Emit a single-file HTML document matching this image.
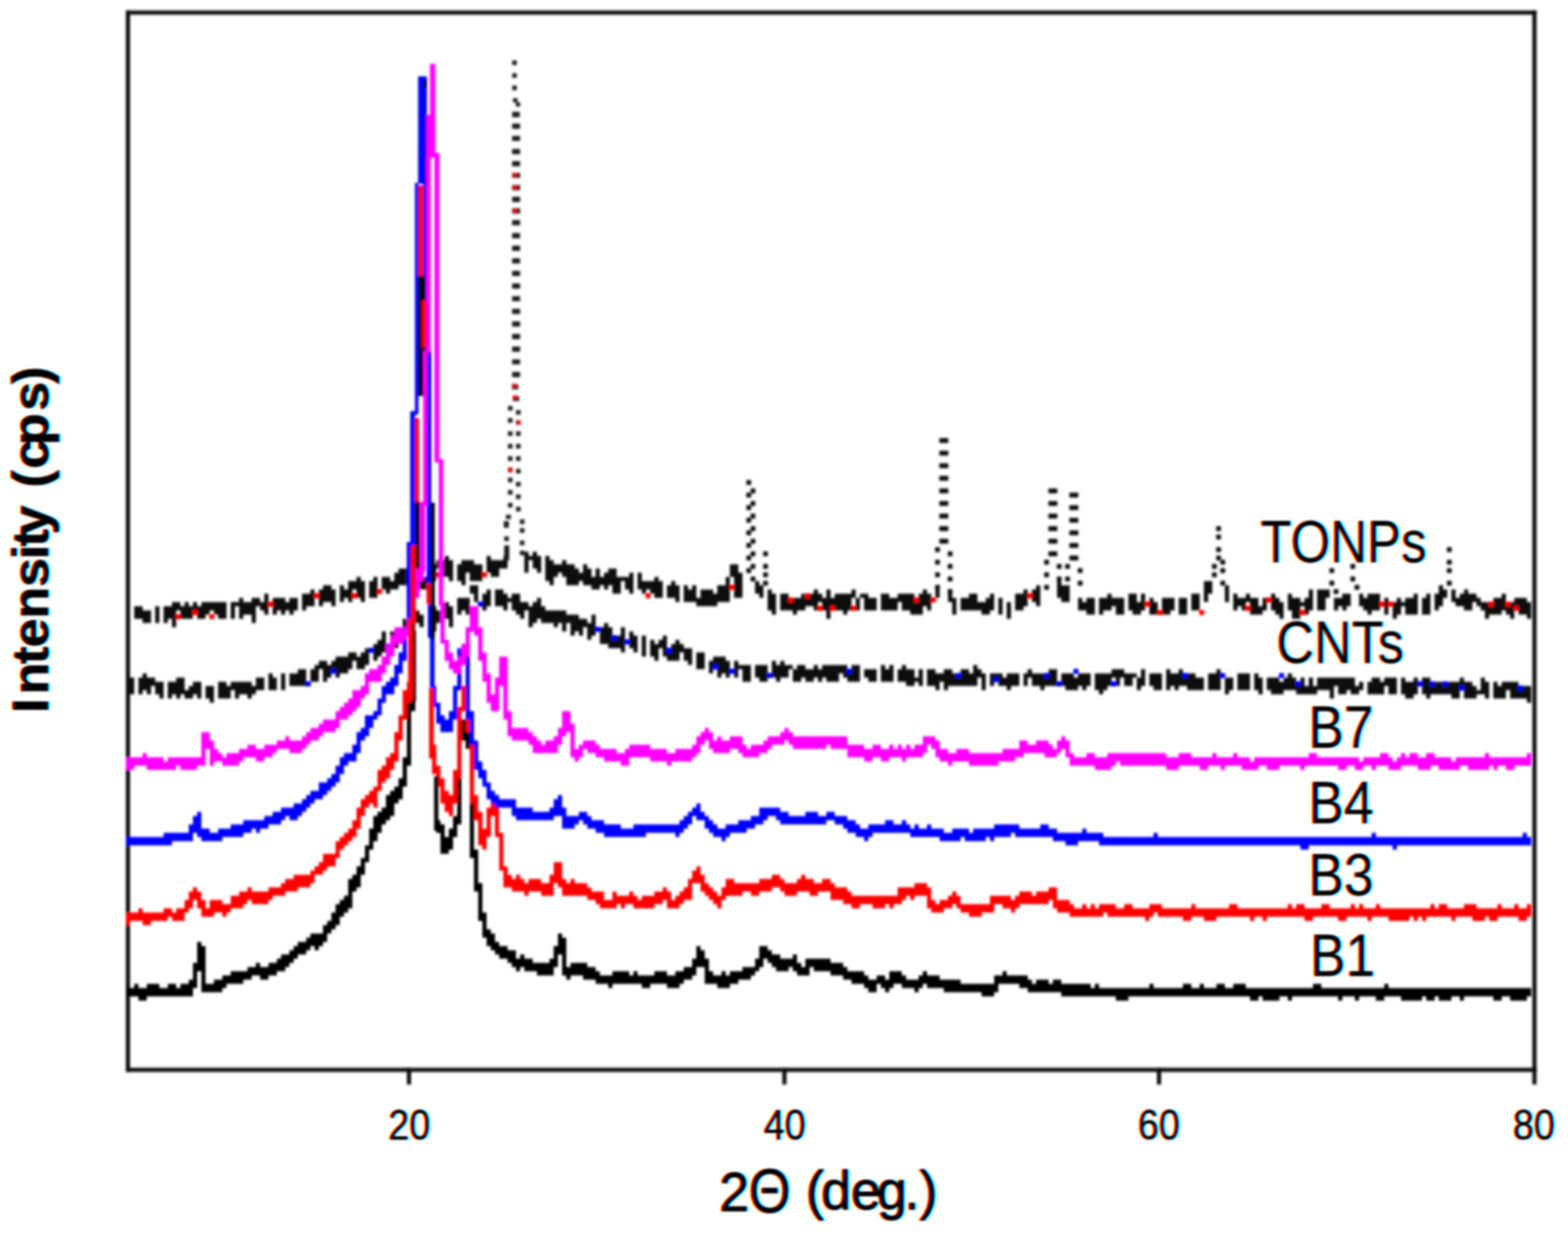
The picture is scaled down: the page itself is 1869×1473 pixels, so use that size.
<!DOCTYPE html>
<html lang="en"><head><meta charset="utf-8"><title>XRD patterns</title>
<style>
html,body{margin:0;padding:0;background:#fff;}
body{width:1869px;height:1473px;overflow:hidden;}
svg{display:block;}
</style></head><body>
<svg width="1869" height="1473" viewBox="0 0 1869 1473">
<defs><filter id="soft" x="0" y="0" width="1869" height="1473" filterUnits="userSpaceOnUse"><feGaussianBlur stdDeviation="1.6"/></filter><filter id="softt" x="0" y="0" width="1869" height="1473" filterUnits="userSpaceOnUse" color-interpolation-filters="sRGB"><feGaussianBlur in="SourceGraphic" stdDeviation="1.0" result="b"/><feOffset in="b" dx="1.5" result="o1"/><feOffset in="b" dx="-1.5" result="o2"/><feColorMatrix in="o1" type="matrix" values="0 0 0 -1 1  0 0 0 0 0  0 0 0 0 0  0 0 0 0 1" result="r"/><feColorMatrix in="b" type="matrix" values="0 0 0 0 0  0 0 0 -1 1  0 0 0 0 0  0 0 0 0 1" result="g"/><feColorMatrix in="o2" type="matrix" values="0 0 0 0 0  0 0 0 0 0  0 0 0 -1 1  0 0 0 0 1" result="bl"/><feComposite in="r" in2="g" operator="arithmetic" k2="1" k3="1" result="rg"/><feComposite in="rg" in2="bl" operator="arithmetic" k2="1" k3="1"/></filter></defs>
<rect width="1869" height="1473" fill="#fff"/>
<g font-family="Liberation Sans, sans-serif" filter="url(#softt)">
<text stroke="#111" stroke-width="0.4" stroke-linejoin="round" x="1502" y="670" font-size="70" font-weight="normal" fill="#111" textLength="198" lengthAdjust="spacingAndGlyphs">TONPs</text>
<text stroke="#111" stroke-width="0.4" stroke-linejoin="round" x="1521" y="790" font-size="70" font-weight="normal" fill="#111" textLength="152" lengthAdjust="spacingAndGlyphs">CNTs</text>
<text stroke="#111" stroke-width="0.4" stroke-linejoin="round" x="1559" y="891" font-size="70" font-weight="normal" fill="#111" textLength="78" lengthAdjust="spacingAndGlyphs">B7</text>
<text stroke="#111" stroke-width="0.4" stroke-linejoin="round" x="1559" y="981" font-size="70" font-weight="normal" fill="#111" textLength="78" lengthAdjust="spacingAndGlyphs">B4</text>
<text stroke="#111" stroke-width="0.4" stroke-linejoin="round" x="1559" y="1067" font-size="70" font-weight="normal" fill="#111" textLength="78" lengthAdjust="spacingAndGlyphs">B3</text>
<text stroke="#111" stroke-width="0.4" stroke-linejoin="round" x="1561" y="1162.5" font-size="70" font-weight="normal" fill="#111" textLength="78" lengthAdjust="spacingAndGlyphs">B1</text>
<text stroke="#111" stroke-width="0.7" stroke-linejoin="round" x="462.5" y="1358" font-size="50" font-weight="normal" fill="#111" textLength="50" lengthAdjust="spacingAndGlyphs">20</text>
<text stroke="#111" stroke-width="0.7" stroke-linejoin="round" x="910" y="1358" font-size="50" font-weight="normal" fill="#111" textLength="50" lengthAdjust="spacingAndGlyphs">40</text>
<text stroke="#111" stroke-width="0.7" stroke-linejoin="round" x="1356" y="1358" font-size="50" font-weight="normal" fill="#111" textLength="50" lengthAdjust="spacingAndGlyphs">60</text>
<text stroke="#111" stroke-width="0.7" stroke-linejoin="round" x="1803" y="1358" font-size="50" font-weight="normal" fill="#111" textLength="50" lengthAdjust="spacingAndGlyphs">80</text>
<text y="1443" font-size="64" fill="#111" stroke="#111" stroke-width="1.4" stroke-linejoin="round"><tspan x="857.0">2</tspan><tspan x="891.9" dy="1.5" font-size="75" stroke-width="1.0" textLength="50.2" lengthAdjust="spacingAndGlyphs">Θ</tspan><tspan x="892.6 960.2 978.5 1013.9 1044.9 1077.8 1095.7" dy="-3.5"> (deg.)</tspan></text>
<text transform="translate(57,847) rotate(-90)" x="-2.6 19.4 55.7 75.5 109.7 147.5 180.6 195.7 210.0 244.5 266.0 288.6 316.4 357.5 389.4" y="0" font-size="62" font-weight="bold" fill="#111" stroke="#111" stroke-width="1.0" stroke-linejoin="round">Intensity (cps)</text>
</g>
<g filter="url(#soft)">
<g id="axes" fill="#111">
<rect x="150" y="12.5" width="5" height="1265"/>
<rect x="1826.5" y="12.5" width="5" height="1265"/>
<rect x="150" y="12.5" width="1681.5" height="5"/>
<rect x="150" y="1272.5" width="1681.5" height="5"/>
<rect x="485" y="1272.5" width="5" height="20"/>
<rect x="932.5" y="1272.5" width="5" height="20"/>
<rect x="1379" y="1272.5" width="5" height="20"/>
<rect x="1826.5" y="1272.5" width="5" height="20"/>
</g>
<g id="curves" transform="translate(0,2.5) scale(5)">
<path fill="#111" d="M125 131h1v1h1v-1h1v1h1v4h-1v-1h-1v-2h-1v3h-1zM106 132h1v1h1v5h-1v-1h-2v-2h-1v3h-1v2h-4v-1h-4v1h-2v1h-1v-1h-1v-3h2v1h1v-2h1v-1h2v2h1v-2h1v-1h1v1h1v2h1v-2h1v-1h1v-1h2zM116 132h1v1h3v-1h1v3h-2v2h-2v-1h-1zM130 132h1v1h1v1h2v-1h1v1h2v1h1v1h1v-2h1v1h1v2h1v-2h1v2h1v-1h1v-1h2v2h3v-1h1v5h-1v-1h-1v-2h-1v3h-2v-2h-1v1h-1v-1h-1v1h-2v-1h-2v-1h-1v1h-3v-2h-1v-1h-1v1h-1v2h-1v-1h-1zM110 133h3v1h2v4h-3v-2h-1v3h-1v-1h-1v-4h1zM174 134h2v2h1v6h-2v-5h-1v6h-3v1h-5v-1h-3v-4h1v1h1v-1h1v3h1v-2h3v1h1v-2h2v-2h1zM152 136h1v2h3v-1h1v1h1v4h-2v-1h-1v-1h-1v1h-1v-1h-1zM85 137h1v1h1v5h-1v-1h-1v-2h-1v3h-1v-1h-1v1h-1v-4h1v1h1v-2h2zM89 137h1v5h-2v-4h1zM160 138h1v1h1v4h-1v-1h-2v-3h1zM180 138h1v1h1v3h-1v-1h-1zM252 138h1v1h2v4h-2v-1h-1zM287 138h2v3h-1v2h-1zM77 139h2v1h1v4h-1v-1h-2v1h-1v-4h1zM223 139h1v3h-1zM247 139h1v5h-1v-1h-1v-3h1zM292 139h1v4h-1zM343 139h1v1h1v2h-1v2h-1v1h-1v-4h1zM74 140h1v4h-2v1h-1v-4h2zM183 140h1v1h1v5h-1v-1h-1zM194 140h1v1h1v1h1v-2h1v2h1v-1h4v-1h1v2h1v3h-1v-3h-1v3h-1v1h-1v-1h-2v-1h-1v3h-1v-2h-1v-2h-1v2h-1v-1h-2v1h-2v1h-1v-1h-3v-4h2v2h1v-1h2v-1h1v1h1v-1h1zM220 140h1v1h1v4h-1v-1h-1v2h-3v-1h-2v-2h-1v2h-4v-4h2v1h2v-1h4v2h1v-2h1zM226 140h1v2h1v4h-1v-3h-1zM244 140h1v4h-1v1h-2v-4h2zM312 140h1v5h-1v1h-1v-2h-1v3h-2v-2h-1v-4h1v1h2v1h1v-1h1zM314 140h3v2h-1v3h-2zM346 140h1v2h1v-1h1v-1h1v1h2v1h1v1h2v1h1v-2h2v-1h1v3h1v-1h1v-1h3v1h1v4h-1v-1h-2v-2h-1v3h-1v-1h-1v-1h-1v1h-3v1h-1v-2h-1v-1h-1v-1h-1v2h-2v-1h-2v-1h-1zM63 141h1v5h-1v-1h-1v-1h-1v4h-1v-2h-2v1h-1v-3h-1v3h-1v-4h2v-1h1v1h2v-1h2v1h1zM205 141h2v1h2v3h-3v-3h-1zM231 141h2v2h2v-1h1v-1h1v4h-1v1h-2v-1h-5v-3h2zM264 141h1v1h3v4h-2v-2h-1v1h-2v1h-1v-4h2zM269 141h2v2h1v-2h1v4h-1v1h-2v-1h-1zM284 141h2v4h-2zM294 141h1v1h2v-1h1v1h2v2h1v-2h1v3h-1v1h-3v-3h-1v2h-1v-1h-1v1h-1zM303 141h1v1h1v1h1v4h-1v-1h-1v-1h-1zM320 141h2v3h-1v1h-1v-1h-1v1h-1v-3h2zM324 141h1v1h1v-1h3v4h-2v1h-1v-1h-1v-1h-1zM337 141h1v5h-3v-2h-1v2h-1v1h-1v-4h1v-1h1v1h1v-1h2zM340 141h1v5h-2v-4h1zM65 142h3v1h1v-1h2v3h-1v1h-1v-1h-1v1h-1v-1h-1v1h-1zM238 142h1v4h-1zM257 142h1v1h1v-1h2v4h-2v-1h-2zM274 142h1v1h1v3h-2zM277 142h3v3h-1v1h-2zM281 142h2v4h-2zM330 142h1v4h-1zM41 143h2v1h1v-1h1v1h1v-1h1v1h1v-1h6v4h-2v-1h-1v-1h-1v1h-1v1h-2v-2h-1v2h-3v-2h-1v4h-1v-2h-1v1h-1v-4h2zM240 143h1v4h-1zM30 144h1v3h-1zM32 144h2v1h2v3h-2v-1h-2zM37 144h1v4h-1z"/>
<path fill="#111" stroke="#111" stroke-width="0.16" d="M224 104h2v1h-2zM224 107h2v1h-2zM224 110h2v1h-2zM224 113h2v1h-2zM178 114h1v1h-1zM179 116h1v1h-1v1h-1v-1h1zM224 116h2v1h-2zM250 116h2v1h-2zM255 117h2v1h-2zM179 119h1v1h-1v1h-1v-1h1zM224 119h2v1h-2zM250 119h2v1h-2zM255 120h2v1h-2zM179 122h1v1h-1v1h-1v-1h1zM224 122h2v1h-2zM250 122h2v1h-2zM255 123h2v1h-2zM179 125h1v1h-1v1h-1v-1h1zM224 125h2v1h-2zM250 125h2v1h-2zM290 125h1v1h-1zM255 126h2v1h-2zM290 127h1v1h-1zM179 128h1v1h-1v1h-1v-1h1zM224 128h2v1h-2zM250 128h2v1h-2zM255 129h2v1h-2zM223 130h1v1h-1zM290 130h1v1h-1zM345 130h1v1h-1zM179 131h1v1h-1v1h-1v-1h1zM182 131h1v1h-1zM226 131h1v1h-1zM250 131h2v1h-2zM255 132h2v1h-2zM290 132h1v1h1v1h-1v-1h-1zM223 133h1v1h-1zM249 133h1v1h-1zM345 133h1v1h-1zM179 134h1v1h-1v1h-1v-1h1zM182 134h1v1h-1zM226 134h1v1h-1zM252 134h1v1h-1zM254 134h1v1h-1zM289 134h1v1h-1zM322 134h1v1h-1zM257 135h1v1h-1zM291 135h1v1h-1zM317 135h1v1h-1zM345 135h1v1h-1zM182 136h1v1h-1zM223 136h1v1h-1zM249 136h1v1h-1zM289 136h1v1h-1zM179 137h1v1h-1zM226 137h1v1h-1zM252 137h1v1h-1zM254 137h1v1h-1zM322 137h1v1h-1zM182 138h1v1h-1zM257 138h1v1h-1zM291 138h1v1h-1zM317 138h1v1h-1zM345 138h1v1h-1zM223 139h1v1h-1zM249 139h1v1h-1zM323 139h1v1h-1zM226 140h1v1h-1zM318 140h1v1h-1z"/>
<path fill="#ff0000" stroke="#ff0000" stroke-width="0.2" d="M104 136h1v1h-1zM115 136h1v1h-1zM174 139h1v1h-1zM90 140h1v1h-1zM75 141h1v1h-1zM84 141h1v1h-1zM154 141h1v1h-1zM192 141h1v1h-1zM245 141h1v1h-1zM188 142h1v1h-1zM218 142h1v1h-1zM222 142h1v1h-1zM302 142h1v1h-1zM64 143h1v1h-1zM273 143h1v1h-1zM329 143h1v1h-1zM331 143h1v1h-1zM355 143h1v1h-1zM359 143h1v1h-1zM195 144h1v1h-1zM198 144h1v1h-1zM203 144h1v1h-1zM297 144h1v1h-1zM361 144h1v1h-1zM46 145h1v1h-1zM276 145h1v1h-1zM286 145h1v1h-1zM310 145h1v1h-1zM42 146h1v1h-1zM50 146h1v1h-1z"/>
<path fill="#111" d="M112 139h2v4h-1v-2h-1zM116 140h1v4h-1v1h-1v-4h1zM118 140h2v1h1v1h1v-1h2v2h2v1h1v-1h1v-1h1v2h1v1h5v1h3v1h2v1h1v-2h1v5h-1v1h-1v-3h-1v2h-1v-1h-1v1h-1v-3h-1v2h-1v-2h-1v1h-1v-1h-3v-1h-1v1h-1v1h-1v-4h-1v2h-1v-1h-1v-1h-1v-2h-1v2h-1v-1h-2zM109 142h3v4h-1v-1h-1v1h-1zM106 143h1v1h1v5h-1v-2h-1zM103 144h1v1h1v3h-1v2h-1v1h-1v-5h1zM98 145h2v1h1v3h-1v-1h-1v3h-3v-4h2zM144 148h1v1h1v3h1v-1h1v-2h1v6h-1v-1h-3v-1h-2v-4h1zM91 150h1v5h-1v1h-1v1h-1v-4h1v-1h1zM93 150h2v4h-2zM150 150h1v1h1v4h-1v-1h-1zM153 151h1v5h-1zM158 151h1v4h1v-2h1v-1h1v1h1v1h2v4h-1v-1h-1v-2h-1v2h-3v-1h-1v-2h-1v3h-1v-1h-1v-4h1v1h1v-1h1zM87 154h1v4h-1v1h-2v-2h-1v2h-1v1h-2v1h-1v-2h-1v2h-1v1h-1v-3h-1v3h-2v-3h1v-1h1v-1h2v1h1v-1h1v-1h3v-1h2v1h1v-1h1zM166 155h2v4h-2zM170 156h3v1h1v4h-1v-1h-1v1h-1v-3h-1v2h-1v-3h1zM175 157h1v1h3v4h-2v-3h-1v2h-1zM184 157h1v1h1v-1h1v1h2v1h1v-1h2v1h2v-1h1v1h1v-1h6v2h1v-2h2v4h-3v-1h-1v-1h-1v2h-3v-1h-1v1h-1v-1h-1v1h-2v-1h-1v1h-2v-3h-1v2h-2v1h-1v-1h-1zM180 158h3v4h-2v-1h-1zM210 158h1v1h1v-1h1v4h-3zM215 158h1v1h2v2h1v-2h1v4h-1v-1h-1v1h-2v-1h-2v-3h1zM232 158h1v1h1v1h1v4h-1v-3h-1v2h-7v1h-1v-2h-1v2h-1v-1h-2v-4h2v1h2v-1h2v1h1v1h1v-2h2v1h1zM71 159h2v4h-4v-3h2zM206 159h3v3h-2v-1h-1zM245 159h1v1h3v1h1v-2h2v4h-3v1h-1v-1h-2v-2h-1v2h-1v-3h1zM265 159h3v1h3v1h1v-2h1v4h-1v1h-1v-3h-1v2h-2v-2h-1v2h-1v-2h-1v2h-1v1h-1v1h-1v-1h-1v-4h4zM278 159h1v1h2v-1h1v2h1v-1h2v1h2v3h-4v-1h-2v1h-1v-1h-1v1h-1zM290 159h1v5h-3v-4h2zM34 160h1v1h2v1h2v4h-1v-1h-1v-2h-1v2h-1v-1h-1v1h-1v-4h1zM64 160h1v1h1v3h-2zM67 160h1v4h-1zM236 160h3v1h1v-1h3v3h-2v1h-1v-1h-2v-2h-1v2h-1zM253 160h3v1h1v-1h3v3h-1v1h-1v-1h-1v1h-3v-1h-1zM274 160h3v4h-2v-1h-1zM295 160h3v4h-3zM299 160h1v1h1v4h-1v-1h-1zM307 160h1v1h1v2h1v-2h1v2h1v-2h1v2h1v-2h9v2h1v-1h1v2h-1v1h-2v-1h-1v1h-2v-2h-1v3h-1v-2h-3v1h-5v-1h-3v1h-3v-1h-1v-3h3v1h1v-1h1zM30 161h2v4h-1v-2h-1zM42 161h2v3h1v-1h1v-1h2v4h-1v-1h-1v1h-2v-1h-1v1h-1v-1h-1v1h-1v-4h2zM61 161h2v3h-2v1h-1v1h-1v-1h-2v1h-1v-2h-1v2h-3v-4h2v1h1v-1h5v1h1zM292 161h2v3h-1v1h-1zM327 161h2v1h1v-1h3v4h-2v-2h-1v2h-4v-3h1zM334 161h1v1h2v-1h1v4h-1v1h-2v-1h-1zM339 161h2v2h1v-1h2v1h1v-1h3v-1h1v1h2v1h1v1h1v-3h1v1h1v4h-1v-1h-2v1h-3v-3h-1v3h-2v-1h-5v1h-1v-1h-1zM356 162h1v1h1v-1h4v2h1v-1h2v4h-1v-1h-4v-2h-1v2h-3zM49 163h2v4h-1v-1h-1z"/>
<path fill="#0000ff" stroke="#0000ff" stroke-width="0.2" d="M114 143h1v1h-1zM142 149h1v1h-1zM146 151h1v1h-1zM149 152h1v1h-1zM92 153h1v1h-1zM88 154h1v1h-1zM159 154h1v1h-1zM170 158h1v1h-1zM79 159h1v1h-1zM174 159h1v1h-1zM202 159h1v1h-1zM256 159h1v1h-1zM183 160h1v1h-1zM228 160h1v1h-1zM249 160h1v1h-1zM282 160h1v1h-1zM291 160h1v1h-1zM305 160h1v1h-1zM237 161h1v1h-1zM73 162h1v1h-1zM252 162h1v1h-1zM265 162h1v1h-1zM309 162h1v1h-1zM338 162h1v1h-1zM341 162h1v1h-1zM344 162h1v1h-1zM348 163h1v1h-1zM362 163h1v1h-1z"/>
<path fill="#000000" d="M98 166h1v3h-1v13h-1v5h-1v3h-1v1h-1v3h-1v1h-1v1h-1v2h-1v2h-1v2h-1v3h-1v3h-1v3h-1v1h-1v4h-1v1h-1v1h-1v2h-1v1h-1v1h-1v2h-1v1h-1v1h-1v-1h-1v1h-1v1h-2v1h-1v1h-1v1h-1v1h-2v1h-2v1h-2v-1h-2v1h-2v1h-4v1h-1v1h-5v-5h-1v4h-1v2h-11v1h-2v-1h-3v-2h2v-1h1v1h2v-1h3v1h2v-1h2v1h1v-1h2v-1h1v-4h1v-5h1v1h1v9h2v-1h2v-1h2v-1h4v-1h2v-1h1v1h2v-1h2v-1h1v-1h2v-1h1v-1h1v-1h2v-1h1v-1h3v-2h1v-1h1v-2h1v-2h1v-1h1v-1h1v-4h1v-1h1v-2h1v-2h1v-3h1v-4h1v-3h1v-1h1v-1h1v-3h1v-1h1v-1h1v-2h1v-5h1v-13h1zM110 171h2v5h1v26h1v8h1v7h1v4h1v1h1v2h1v1h2v1h2v2h1v-1h1v1h2v1h4v-1h1v-3h1v-3h1v1h1v7h1v-1h4v1h2v1h1v1h3v-1h4v1h1v-1h1v1h4v-1h3v1h2v-1h2v-1h2v-2h1v-3h1v1h1v2h1v3h1v1h2v-1h1v1h1v-1h3v-1h3v-2h1v-3h2v1h1v1h2v1h3v-1h1v2h1v1h1v-2h6v1h3v1h1v1h4v1h1v1h2v-1h2v1h1v-2h3v1h1v1h3v-1h1v-1h1v1h3v1h5v1h8v-2h2v-1h1v1h5v1h1v1h1v-1h3v1h1v-1h2v1h7v1h1v-1h1v1h12v-1h1v1h7v-1h2v1h2v-1h1v1h3v-1h2v1h2v-1h3v1h16v-1h2v1h15v-1h1v1h34v2h-1v1h-4v-1h-2v1h-2v-1h-7v1h-1v-1h-2v1h-3v-1h-1v1h-2v-1h-1v1h-5v-1h-4v1h-2v-1h-4v1h-1v-1h-3v1h-1v-1h-11v1h-1v-1h-2v1h-4v-1h-1v1h-2v-1h-29v1h-3v-1h-13v-1h-8v-1h-2v-1h-5v2h-1v1h-3v-1h-9v-1h-4v-1h-1v1h-1v1h-1v-1h-3v-1h-2v1h-1v1h-1v-1h-1v-1h-1v2h-2v-1h-1v-1h-3v-1h-2v-1h-3v-1h-4v-1h-1v2h-3v-1h-1v-1h-1v1h-3v-1h-1v-1h-1v-1h-1v2h-1v1h-1v1h-1v1h-3v1h-2v1h-3v-1h-3v-4h-2v2h-1v1h-2v1h-1v1h-3v-1h-4v1h-2v-1h-7v1h-1v-1h-3v-1h-3v-1h-3v1h-1v-1h-1v-5h-1v3h-1v2h-4v-1h-3v-1h-1v1h-1v-1h-1v-1h-1v-1h-2v-1h-1v-1h-1v-1h-1v-2h-1v-4h-1v-7h-1v-8h-1v-26h-1v-2h-1v20h-1v3h-1v3h-1v1h-2v-5h-1v-3h1v1h1v3h1v-2h1v-3h1v-20h1z"/>
<path fill="#ff0000" d="M97 162h1v5h-1v4h-1v5h-1v5h-1v2h-1v2h-1v1h-1v2h-1v4h-1v-1h-1v1h-1v2h-1v3h-1v2h-1v1h-1v1h-1v1h-1v2h-1v2h-2v1h-1v1h-2v2h-1v1h-3v1h-3v1h-3v1h-1v1h-4v-1h-1v1h-1v1h-3v1h-1v1h-1v-1h-2v1h-3v-2h-1v-2h-1v2h-1v1h-1v2h-3v-1h-1v1h-4v1h-2v-1h-3v1h-1v-3h3v-1h1v1h5v-1h2v1h1v-1h2v-2h1v-2h1v-1h1v1h1v2h1v2h1v-2h3v1h2v-2h2v-1h2v-1h1v1h4v-1h3v-1h1v-1h2v-1h4v-1h1v-1h1v-1h1v-2h3v-3h1v-1h1v-1h1v-1h1v-2h1v-3h1v-2h1v-1h1v-1h1v-1h1v-4h1v-1h1v-2h1v-1h1v-5h1v-4h1v-6h1zM110 163h1v1h1v8h1v17h1v4h1v4h1v-5h1v-3h1v1h1v8h1v8h1v2h1v1h1v-1h1v1h1v1h1v-1h3v1h2v-2h1v-3h2v4h1v1h1v-1h1v1h3v1h1v1h3v2h2v-2h1v1h3v-1h1v1h1v1h1v-1h3v-1h2v-1h1v1h1v2h1v-1h1v-1h1v-1h1v-2h1v-2h1v-1h1v2h1v2h1v1h1v1h1v1h1v-2h1v-2h2v1h6v-1h3v-1h2v1h1v1h3v-1h1v-1h1v1h2v1h2v-1h2v1h1v1h3v1h1v1h11v-2h4v-1h3v1h1v3h1v1h1v-1h2v-1h1v-1h1v1h1v2h7v-2h5v1h1v-1h1v-1h3v1h1v-1h3v-1h2v3h3v1h1v1h2v-1h1v1h1v-1h1v1h1v-1h4v1h2v-1h2v1h4v-1h3v1h7v-1h1v1h8v-1h2v1h12v-1h1v1h1v-1h2v1h4v-1h2v1h5v-1h1v1h1v-1h1v1h3v-1h1v1h12v-1h1v1h1v-1h2v1h4v-1h3v1h5v-1h1v1h3v-1h1v1h2v-1h1v3h-1v1h-2v-1h-5v1h-2v-1h-1v1h-3v-1h-4v1h-1v-1h-6v1h-1v-1h-1v1h-1v-1h-1v1h-5v-1h-4v1h-1v-1h-5v1h-2v-1h-6v1h-2v-1h-9v1h-1v-1h-2v1h-1v-1h-8v1h-3v-1h-3v1h-2v-1h-6v-1h-1v1h-1v1h-1v-1h-9v-1h-1v1h-8v-1h-3v-1h-1v-2h-1v1h-7v1h-1v1h-1v-1h-2v-1h-2v2h-3v1h-3v-1h-2v-1h-1v-1h-1v1h-2v1h-3v-1h-1v-3h-3v1h-1v-1h-1v1h-1v1h-2v1h-1v-1h-1v1h-3v-1h-3v1h-2v-1h-2v-1h-3v-2h-3v1h-2v-1h-3v1h-3v-1h-1v-1h-2v1h-3v1h-2v-1h-2v1h-4v1h-1v2h-1v-1h-1v-1h-1v-1h-1v-1h-1v-2h-2v4h-2v1h-1v1h-3v-2h-1v1h-2v1h-5v-1h-2v1h-1v-1h-1v1h-4v-1h-1v-1h-2v-1h-6v-2h-1v-1h-1v3h-3v-1h-3v1h-1v-1h-3v-1h-2v-4h-1v-8h-1v-5h-1v5h-1v3h-1v-1h-1v-6h-1v-4h-1v-17h-1v-5h-1v16h-1v6h-1v3h-1v-1h-1v-2h-1v-4h-1v-3h-1v-7h1v5h1v3h1v3h1v1h1v-6h1v-15h1z"/>
<path fill="#0000ff" d="M97 146h1v5h-1v6h-1v3h-1v3h-1v2h-2v2h-1v3h-1v1h-1v2h-1v2h-1v1h-1v3h-1v2h-2v1h-1v2h-1v2h-1v1h-1v1h-1v1h-1v1h-2v1h-1v1h-1v1h-1v1h-1v1h-2v-1h-1v1h-1v1h-3v1h-2v1h-1v-1h-1v1h-2v1h-5v1h-5v-1h-1v-1h-1v2h-5v1h-11v-2h9v-1h6v-2h1v-2h1v-1h1v4h2v1h2v-1h3v-1h3v-1h5v-1h2v-1h2v-1h3v-1h2v-1h1v-1h1v-1h2v-2h2v-1h1v-1h1v-2h1v-2h1v-1h2v-2h1v-3h1v-1h1v-3h2v-1h1v-3h1v-3h1v-1h1v-1h1v-3h1v-3h1v-5h1zM110 153h1v2h1v14h1v7h1v5h1v2h1v3h1v2h1v1h1v1h4v2h4v1h4v-1h1v-2h1v-1h1v3h1v2h3v-1h2v1h1v1h3v1h4v1h3v-1h11v-1h1v-1h1v-1h1v-1h1v-1h1v2h1v1h1v1h1v1h1v1h2v-1h3v-1h3v-1h2v-2h5v1h2v1h4v-1h3v1h2v-1h2v1h3v1h2v1h1v1h2v-1h4v-1h2v1h2v-1h1v1h1v1h1v-1h1v1h2v-1h1v1h3v1h2v-1h4v1h1v-1h5v-1h6v1h5v-1h2v1h2v1h6v-1h1v1h4v1h12v-1h1v1h51v-1h1v1h35v-1h1v1h1v2h-32v1h-1v-1h-20v1h-2v-1h-48v-1h-5v1h-3v-1h-3v-1h-9v-1h-1v1h-4v1h-1v-1h-1v1h-5v-1h-1v1h-5v-1h-7v-1h-9v1h-1v1h-1v-1h-2v-1h-2v-1h-1v-1h-2v-1h-2v1h-11v-1h-1v-1h-2v1h-1v1h-2v1h-2v1h-4v1h-1v1h-1v-1h-2v-1h-1v-1h-1v-2h-2v-1h-1v2h-1v1h-1v1h-1v1h-1v-1h-7v1h-10v-1h-2v-1h-2v-1h-1v-1h-1v1h-1v1h-3v-3h-2v1h-9v-1h-1v-2h-4v-1h-1v-1h-1v-3h-1v-2h-1v-2h-1v-6h-1v-6h-1v-14h-1v7h-1v7h-1v3h-3v-2h-1v-4h-1v-5h1v4h1v3h1v1h1v-2h1v-6h1v-9h1z"/>
<path fill="#ff00ff" d="M99 135h2v3h-1v4h-1v6h-1v3h-1v1h-1v1h-2v3h-1v2h-1v2h-1v2h-3v3h-1v1h-1v2h-1v1h-1v1h-1v1h-2v2h-1v1h-3v1h-1v1h-2v1h-1v1h-1v1h-3v-1h-3v1h-1v1h-2v1h-2v-1h-3v1h-1v1h-4v-1h-2v1h-1v-4h-1v4h-2v1h-4v-1h-1v1h-7v-1h-3v1h-2v-3h4v-1h1v1h4v1h1v-1h8v-6h2v2h1v2h1v1h1v1h1v-1h3v-1h2v-1h2v1h2v-1h3v-1h2v-1h1v1h3v-1h1v-1h1v-1h2v-1h1v-1h3v-2h1v-1h1v-1h1v-1h1v-2h2v-1h1v-3h1v-1h2v-1h1v-2h1v-3h1v-2h1v-2h3v-4h1v-5h1zM112 144h2v5h1v6h1v5h1v5h1v-4h1v-5h2v13h1v4h4v1h1v1h1v1h1v1h1v-1h2v-1h1v-2h1v-4h2v3h1v6h1v-1h1v-1h3v1h1v1h4v1h2v-1h1v-1h5v1h4v1h2v-1h4v-1h1v-2h1v-1h1v-1h1v1h1v2h1v-1h1v1h2v-1h3v2h1v1h1v-1h3v-1h1v-1h3v-1h1v-1h1v1h1v1h13v2h4v1h2v-1h2v1h2v-1h1v1h1v-1h1v1h1v-1h1v1h1v-1h2v-2h3v1h1v2h2v1h2v-1h3v1h8v-1h4v-2h2v1h2v-1h3v1h1v1h1v-2h1v-1h1v1h1v3h1v1h3v-1h2v1h3v-1h14v1h3v-1h3v1h5v-1h1v1h4v-1h1v1h3v1h1v-1h13v-1h2v1h10v1h1v-1h4v-1h2v1h1v1h1v-1h1v-1h1v1h1v-1h2v1h2v-1h2v1h4v1h1v-1h7v-1h1v1h9v-1h1v3h-4v1h-2v-1h-2v1h-1v-1h-1v1h-5v-1h-2v1h-5v-1h-2v1h-3v-1h-4v1h-3v-1h-3v1h-1v-1h-2v1h-2v-1h-2v1h-2v-1h-8v1h-1v-1h-5v1h-3v-1h-2v1h-4v-1h-4v1h-1v-1h-3v1h-2v-1h-5v1h-3v-1h-11v-1h-1v1h-1v1h-4v-1h-6v-2h-1v-2h-1v1h-1v1h-3v-1h-5v1h-2v1h-4v1h-7v-1h-4v1h-1v-1h-2v-1h-1v-2h-1v-1h-1v2h-1v1h-4v1h-1v-1h-3v1h-2v-1h-2v1h-2v-1h-4v-2h-4v-1h-1v1h-8v-1h-1v-1h-1v1h-3v1h-1v1h-2v1h-4v-1h-1v-1h-2v1h-4v-1h-1v-2h-1v1h-1v2h-1v1h-1v1h-5v1h-1v-1h-4v-1h-5v2h-2v-1h-4v-1h-2v-1h-2v-1h-1v2h-1v1h-1v-1h-1v-6h-1v1h-1v2h-1v2h-6v-2h-1v-1h-4v-1h-1v-4h-1v-8h-1v6h-2v-2h-1v-5h-1v-5h-1v-6h-1v-1h-1v6h-1v2h-1v2h-2v-1h-1v-2h-1v-5h1v3h1v2h1v-1h1v-3h1v-4h1z"/>
</g>
<g id="tonp-peak">
<path fill="#1c1c1c" d="M610.55 71.95H616.05V77.45H610.55zM610.55 87.25H616.05V92.75H610.55zM610.55 102.05H616.05V107.55H610.55zM611.45 117H616.95V122H611.45zM615 122H620V127H615zM610.5 133.35H619.5V139.85H610.5zM610.45 147.3H619.95V153.5H610.45zM610.45 161.9H619.95V168.1H610.45zM610.45 177.5H619.95V183.7H610.45zM610.45 192.1H619.95V198.3H610.45zM610.45 205.9H619.95V212.1H610.45zM610.45 220.6H619.95V226.8H610.45zM610.45 234.5H619.95V240.7H610.45zM610.45 248.3H619.95V254.5H610.45zM610.45 262.2H619.95V268.4H610.45zM610.45 277.7H619.95V283.9H610.45zM610.45 292.7H619.95V298.9H610.45zM610.45 307.75H619.95V313.95H610.45zM610.45 322.8H619.95V329H610.45zM610.45 337.85H619.95V344.05H610.45zM610.45 352.9H619.95V359.1H610.45zM610.45 367.95H619.95V374.15H610.45zM610.45 383H619.95V389.2H610.45zM610.45 398.05H619.95V404.25H610.45zM610.45 413.1H619.95V419.3H610.45zM610.45 428.15H619.95V434.35H610.45zM610.45 443.2H619.95V449.4H610.45zM610.25 458H617.75V464H610.25zM611.25 472H618.75V478H611.25zM605.45 483.75H610.95V489.25H605.45zM605.45 498.25H610.95V503.75H605.45zM605.45 513.95H610.95V519.45H605.45zM605.45 529.05H610.95V534.55H605.45zM605.45 543.75H610.95V549.25H605.45zM605.45 557.25H610.95V562.75H605.45zM605.45 569.25H610.95V574.75H605.45zM605.45 583.95H610.95V589.45H605.45zM605.45 599.25H610.95V604.75H605.45zM615.05 488.65H620.55V494.15H615.05zM615.05 500.85H620.55V506.35H615.05zM615.05 513.95H620.55V519.45H615.05zM615.05 529.05H620.55V534.55H615.05zM615.05 543.75H620.55V549.25H615.05zM615.05 558.75H620.55V564.25H615.05zM615.05 574.25H620.55V579.75H615.05zM615.05 589.25H620.55V594.75H615.05zM615.05 604.05H620.55V609.55H615.05zM603 613.5H609V618.5H603zM600.5 621H606.5V629H600.5zM601.05 639.25H606.55V644.75H601.05zM601 650H607V668H601zM619.65 619.05H625.15V624.55H619.65zM619.65 629.55H625.15V635.05H619.65zM619.65 644.25H625.15V649.75H619.65zM619.65 656.25H625.15V661.75H619.65z"/>
<path fill="#ff0000" d="M611.55 206.25H616.05V210.75H611.55zM611.55 220.95H616.05V225.45H611.55zM611.55 248.65H616.05V253.15H611.55zM610.75 457.25H615.25V461.75H610.75zM611.25 471.25H615.75V475.75H611.25zM615.55 501.35H620.05V505.85H615.55zM605.95 557.75H610.45V562.25H605.95z"/>
</g>
<g id="mainpeak">
<path fill="#0000ff" d="M498.4 91H508.8V219H498.4zM494.6 218H498.8V494H494.6zM489 490H494.8V650H489zM484.8 646H490.6V737H484.8zM504.4 218H508.6V420H504.4zM508.4 418H514V702H508.4zM510 700H516V760H510zM512.5 758H518V820H512.5z"/>
<path fill="#000000" d="M505 96H509V105H505zM498.7 329H506.8V472H498.7zM495 598H500.6V677H495zM491.5 752H495.8V836H491.5zM513.3 599H518.2V762H513.3zM517.5 925H522.5V990H517.5z"/>
<path fill="#ff0000" d="M498.7 221H504.4V329H498.7zM502.7 358H510V414H502.7zM494.6 498H499.5V598H494.6zM489.5 650H495.5V742H489.5zM486.5 738H492.6V834H486.5zM508.4 695H513V720H508.4zM511.5 820H517V904H511.5z"/>
<path fill="#ff00ff" d="M512.5 76H519V138H512.5zM508.4 137H519V188H508.4zM508.2 187H513.3V420H508.2zM504.4 418H509.2V602H504.4zM500.8 598H506.8V682H500.8zM517.8 182H523.8V551H517.8zM523 547H528.4V722H523zM525 718H530V767H525z"/>
</g>
</g>
</svg>
</body></html>
